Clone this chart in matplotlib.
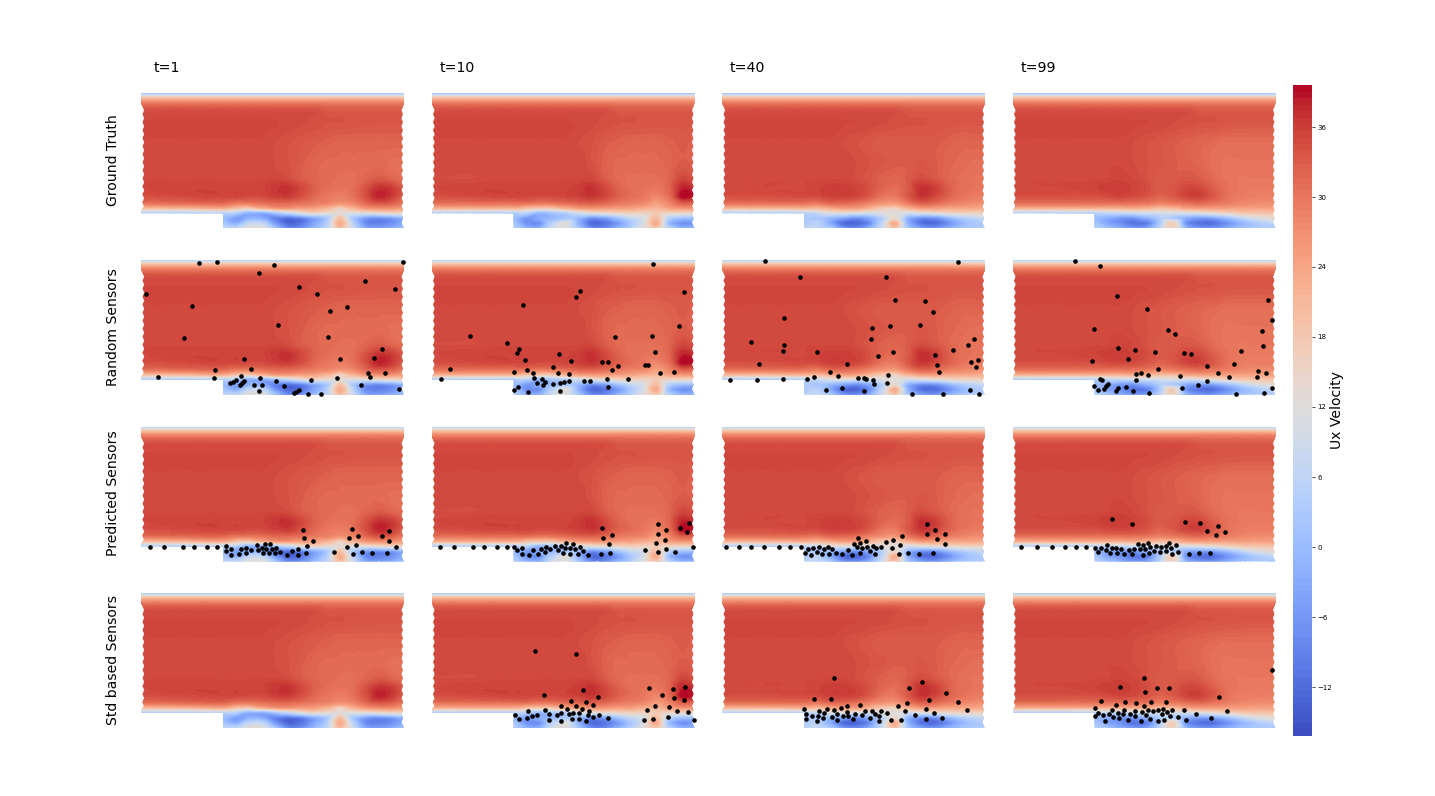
import numpy as np
import matplotlib
matplotlib.use("Agg")
import matplotlib.pyplot as plt
from matplotlib.patches import Polygon
from matplotlib.tri import Triangulation, CubicTriInterpolator

times = ["t=1", "t=10", "t=40", "t=99"]
row_names = ["Ground Truth", "Random Sensors", "Predicted Sensors", "Std based Sensors"]

# Field nodes (domain units = px of a panel)
x_nodes = [0, 40, 82, 95, 108, 121, 134, 147, 160, 173, 186, 199, 212, 225, 238, 251, 263]
y_low = [85, 65, 50, 40, 32, 25, 20, 16, 10, 5, 0]
y_top = [135, 133, 130, 126, 120, 110]

top_band = [
    [0]*17,
    [9]*17,
    [20]*17,
    [28]*17,
    [33.5]*10 + [32.5]*7,
    [35, 35, 35, 35, 35, 35, 35, 34.8, 34.6, 34.4, 34, 34, 33.8, 33.6, 33.5, 33.5, 33.5],
]

ux_t1 = [
    [35, 35, 35, 35, 35, 35, 34.5, 34, 33.5, 33, 32.5, 32, 32, 32, 32, 32, 32],
    [35, 35, 35, 35, 35, 35, 34.5, 34, 33, 32, 31.5, 31.5, 31.5, 31.5, 31.5, 31, 31],
    [35, 35, 35, 35, 35, 35, 35, 34.5, 33, 32, 31.5, 31, 31, 32, 33, 32, 31],
    [35, 35.5, 35.5, 35.5, 35.5, 35.5, 36.5, 37, 35, 32.5, 31, 30.5, 31, 34, 37, 36, 33],
    [34, 34.5, 35, 35, 34.5, 34.5, 35.5, 36, 34, 31.5, 30, 29, 30.5, 34, 38, 36, 32],
    [30, 30.5, 31, 29, 29, 30, 31, 31, 30, 29, 28, 26, 27.5, 31, 33, 32, 29],
    [19, 20, 22, 18, 16, 21, 24, 25, 24, 24, 21, 15, 21, 25, 26, 26, 24],
    [5, 5, 6, 5, -1, -1, 3, 8, 13, 16, 14, 13, 12, 13, 15, 16, 16],
    [5, 5, 0, -5, -2, -3, -9, -12, -10, -4, 2, 19, 2, -6, -8, -6, -2],
    [5, 5, 2, -3, 6, 6, -6, -13, -11, -4, 4, 23, 5, -8, -9, -7, -2],
    [5, 5, 6, 6, 12, 12, 2, -8, -7, -1, 6, 20, 8, -4, -5, -3, 1],
]
ux_t10 = [
    [35, 35, 35, 35, 35, 35, 35, 34.5, 34, 33, 32.5, 32, 32, 32, 32.5, 33, 32.5],
    [35, 35, 35, 35, 35, 35, 35, 35, 34, 32.5, 31.5, 31.5, 31.5, 31.5, 32, 33, 32.5],
    [34.5, 34.5, 35, 35, 35, 35, 35, 35, 35, 33, 31.5, 31, 31, 31, 32, 35, 34],
    [35, 35.5, 35.5, 35.5, 35.5, 35.5, 35.5, 36, 37, 35, 32.5, 31, 30.5, 30, 32, 38, 37],
    [34, 34.5, 35, 35, 34.5, 34.5, 35, 35.5, 36.5, 35, 32.5, 31, 30, 28, 31, 39.5, 38],
    [30, 30, 30, 30, 29, 29.5, 30.5, 31.5, 32, 31, 29.5, 28.5, 27.5, 24.5, 28, 32, 31],
    [21, 21, 21, 18, 17, 17, 21, 24, 25, 25, 24, 24, 22, 21, 24, 25, 25],
    [5, 5, 5, 6, 0, 3, 5, 10, 13, 15, 16, 17, 16, 18, 16, 16, 16],
    [5, 5, 0, -6, -3, -1, 2, -1, -8, -6, 0, 6, 10, 20, 4, 0, 0],
    [5, 5, 2, -7, -7, 5, 12, -2, -12, -11, -6, 2, 10, 23, -1, -7, -5],
    [5, 5, 4, -2, -2, 9, 12, 2, -8, -8, -2, 4, 12, 18, 5, -2, -1],
]
ux_t40 = [
    [35, 35, 35, 35, 35, 34.5, 34, 33.5, 33, 33, 33, 33, 33, 32.5, 32, 32, 32],
    [35, 35, 35, 35, 35, 35, 34.5, 34, 33.5, 33, 33, 33.5, 33, 32, 31.5, 31, 31],
    [35, 35, 35, 35, 35, 35, 34.5, 33.5, 32.5, 32, 33, 34.5, 33.5, 32, 31, 30.5, 30.5],
    [35, 35, 35, 35.5, 36, 36, 35.5, 34, 32, 31, 33, 37, 36, 33, 31, 30.5, 30],
    [34, 34, 34.5, 34.5, 35.5, 35.5, 35, 33, 30, 29.5, 33, 36.5, 35, 32.5, 30.5, 29.5, 29],
    [30, 30, 30, 29, 31, 31, 30, 28, 26, 25, 29, 32, 31, 29, 28, 27, 26],
    [20, 20, 21, 20, 22, 24, 24, 21, 17, 15, 21, 24, 24, 23, 23, 23, 22],
    [5, 5, 6, 8, 12, 13, 12, 11, 12, 12, 10, 12, 14, 15, 16, 16, 16],
    [5, 5, 3, 2, -1, -5, -8, -4, 4, 14, -2, -8, -8, -3, 2, 5, 7],
    [5, 5, 3, 5, -3, -12, -13, -8, 6, 23, -2, -11, -12, -8, -2, 2, 3],
    [5, 5, 5, 7, 3, -6, -8, -3, 8, 19, 2, -5, -7, -3, 1, 3, 4],
]
ux_t99 = [
    [35, 35, 35, 35, 35, 34.5, 34, 33.5, 33, 32.5, 32, 31.5, 31, 31, 31, 31, 31],
    [35, 35, 35, 35, 35, 34.5, 34, 33.5, 33, 32.5, 32, 31, 30.5, 30.5, 30.5, 30.5, 30.5],
    [35, 35, 35, 35, 35.5, 35, 34, 33, 33, 33.5, 33, 31.5, 30.5, 30, 30, 30, 30],
    [35, 35, 35.5, 36, 36, 35.5, 34.5, 33, 33.5, 35, 35, 33, 31, 30, 29.5, 29.5, 29.5],
    [34, 34, 34, 34.5, 35, 34.5, 33.5, 32, 33, 35, 35.5, 33.5, 31, 29.5, 29, 29, 29],
    [30, 30, 30, 30, 30, 30, 29.5, 28, 29, 30, 31, 30, 29, 28, 27.5, 27, 27],
    [21, 21, 21, 21, 21, 22, 21, 19, 20, 23, 24, 24, 24, 24, 24, 24, 24],
    [5, 5, 6, 7, 8, 9, 10, 10, 11, 11, 12, 14, 16, 18, 19, 19, 20],
    [5, 5, 0, -3, -6, -7, -3, 3, 3, -3, -6, -6, -2, 3, 8, 11, 13],
    [5, 5, 2, -4, -7, -11, -10, 2, 17, -6, -11, -12, -8, -3, 1, 4, 6],
    [5, 5, 4, 1, -3, -6, -5, 5, 15, -1, -6, -7, -4, 0, 2, 3, 3],
]
fields = [ux_t1, ux_t10, ux_t40, ux_t99]

# Sensor readings, in 1/3 px of the crop each column was read in
random_t1 = [(206,40),(260,35),(433,44),(386,68),(818,36),(706,94),(507,112),(561,132),(795,116),(48,132),(187,167),(652,170),(599,182),(443,225),(162,265),(595,261),(757,298),(731,325),(631,326),(341,326),(254,361),(363,357),(714,369),(766,370),(719,381),(85,381),(251,385),(334,378),(391,383),(622,383),(544,390),(438,394),(300,398),(308,395),(318,391),(343,392),(337,398),(331,404),(373,406),(397,406),(462,407),(692,404),(388,422),(807,418),(506,420),(499,426),(491,429),(534,433),(573,433)]
random_t10 = [(699,43),(480,122),(468,141),(791,126),(309,166),(776,229),(150,258),(584,260),(697,257),(261,279),(297,298),(291,308),(705,305),(417,312),(316,331),(454,334),(545,335),(563,335),(593,347),(674,346),(685,344),(399,352),(90,358),(321,359),(577,360),(282,365),(339,369),(413,368),(447,372),(720,370),(762,366),(62,387),(343,385),(367,386),(562,386),(625,387),(374,395),(351,398),(400,401),(421,398),(433,396),(447,393),(492,392),(510,394),(369,406),(293,411),(565,412),(283,421),(325,425),(421,424)]
random_t40 = [(166,32),(743,37),(269,81),(528,80),(554,150),(645,152),(668,187),(222,205),(629,225),(539,228),(487,233),(793,266),(483,268),(124,276),(773,285),(221,285),(219,303),(730,299),(548,305),(321,307),(674,314),(503,318),(803,329),(782,337),(147,343),(411,343),(681,344),(797,350),(687,365),(361,366),(533,376),(313,382),(384,379),(61,390),(140,390),(220,386),(291,388),(444,384),(462,383),(468,386),(490,389),(493,401),(531,399),(348,419),(395,414),(461,423),(781,421),(606,431),(698,433),(808,431)]
random_t99 = [(226,32),(300,48),(350,138),(441,176),(805,149),(815,211),(281,238),(505,239),(526,252),(785,242),(788,288),(355,295),(404,299),(722,303),(465,306),(551,309),(573,312),(276,332),(383,326),(622,349),(701,343),(475,357),(408,371),(424,368),(443,374),(653,370),(775,364),(799,368),(771,381),(687,382),(541,379),(299,386),(305,389),(408,391),(622,393),(283,408),(324,403),(318,409),(311,417),(295,421),(354,414),(347,424),(379,411),(398,422),(546,415),(594,406),(448,430),(707,433),(793,429),(817,415)]

pred_t1 = [(59,140),(102,140),(160,140),(192,140),(231,140),(260,140),(289,139),(288,153),(303,148),(303,165),(326,163),(333,147),(349,143),(347,158),(362,150),(382,136),(383,150),(395,143),(405,132),(409,146),(421,132),(425,146),(437,144),(399,159),(417,160),(436,160),(451,156),(471,165),(485,153),(505,147),(504,164),(527,159),(530,138),(520,89),(523,115),(548,123),(613,156),(665,87),(658,115),(685,108),(677,135),(651,141),(669,161),(696,155),(727,159),(771,158),(755,108),(778,94),(778,122),(797,142)]
pred_t10 = [(60,140),(103,140),(158,140),(193,140),(232,140),(261,140),(281,140),(292,150),(307,145),(305,161),(327,164),(339,150),(355,162),(364,146),(377,141),(376,157),(391,148),(405,139),(414,150),(423,137),(437,130),(435,144),(430,160),(450,145),(451,162),(459,132),(465,147),(474,162),(479,141),(488,152),(505,164),(542,161),(571,159),(568,133),(549,113),(576,106),(545,84),(674,151),(713,73),(713,101),(709,128),(735,119),(738,91),(738,147),(713,156),(764,157),(779,83),(807,68),(802,97),(820,140)]
pred_t40 = [(49,140),(88,140),(124,140),(163,140),(206,140),(241,140),(273,140),(295,146),(284,158),(303,164),(310,143),(320,155),(328,142),(336,162),(341,147),(353,140),(356,162),(365,147),(378,160),(396,162),(414,151),(427,164),(432,131),(443,114),(441,142),(451,130),(456,143),(451,159),(467,124),(470,141),(481,152),(489,139),(499,145),(496,162),(514,142),(527,127),(545,145),(549,119),(571,136),(575,109),(566,162),(595,159),(628,161),(668,160),(650,73),(652,103),(676,89),(680,117),(704,103),(704,131)]
pred_t99 = [(62,140),(110,140),(156,140),(196,140),(227,140),(257,140),(285,143),(294,157),(303,143),(317,150),(320,134),(331,158),(335,143),(349,144),(350,158),(363,146),(372,161),(387,150),(397,162),(402,146),(413,132),(420,146),(428,134),(428,164),(436,148),(443,128),(447,160),(450,142),(462,152),(469,139),(481,155),(484,142),(497,138),(499,153),(508,129),(513,145),(515,162),(527,135),(535,157),(567,161),(596,159),(629,160),(337,57),(396,72),(556,67),(601,68),(653,78),(620,92),(676,96),(647,105)]

std_t1 = []
std_t10 = [(344,33),(468,42),(489,151),(373,166),(534,171),(452,183),(497,186),(422,198),(468,197),(518,195),(441,208),(487,208),(375,211),(324,213),(507,212),(388,221),(424,220),(410,224),(447,222),(460,218),(477,219),(285,226),(335,227),(352,226),(321,234),(297,238),(387,239),(423,242),(457,237),(477,236),(498,242),(503,226),(518,231),(537,224),(563,235),(687,145),(759,147),(795,140),(725,166),(761,175),(792,179),(705,197),(746,200),(681,211),(770,214),(803,216),(743,231),(699,238),(671,240),(822,240)]
std_t40 = [(371,54),(637,66),(598,84),(709,100),(311,118),(363,116),(657,120),(745,126),(592,128),(411,138),(393,143),(449,136),(563,138),(770,151),(647,146),(282,148),(352,147),(326,153),(372,149),(411,155),(466,153),(486,152),(514,153),(585,154),(288,162),(341,159),(530,160),(435,162),(381,162),(494,163),(671,160),(615,165),(456,165),(288,178),(307,169),(323,167),(338,174),(366,170),(399,167),(414,169),(508,167),(481,174),(430,177),(382,179),(322,184),(506,183),(543,181),(573,179),(649,177),(695,174)]
std_t99 = [(431,54),(817,31),(360,81),(470,85),(508,83),(434,96),(658,110),(302,122),(348,135),(374,127),(408,129),(454,126),(497,126),(431,138),(285,145),(336,150),(371,149),(443,150),(404,153),(458,154),(473,151),(489,148),(517,151),(551,150),(681,154),(295,158),(354,160),(370,163),(390,163),(427,156),(439,164),(486,161),(501,156),(589,161),(285,169),(308,166),(326,162),(338,171),(356,175),(405,168),(510,167),(533,172),(451,177),(383,179),(423,182),(474,182),(493,179),(557,180),(634,175),(315,184)]

sensors = [
    [None, None, None, None],
    [random_t1, random_t10, random_t40, random_t99],
    [pred_t1, pred_t10, pred_t40, pred_t99],
    [std_t1, std_t10, std_t40, std_t99],
]
crop_x = [130, 420, 710, 1000]
crop_y = {1: [250]*4, 2: [500]*4, 3: [660, 640, 660, 660]}

cbar_ticks = [-12, -6, 0, 6, 12, 18, 24, 30, 36]
cbar_tick_labels = ["\u221212", "\u22126", "0", "6", "12", "18", "24", "30", "36"]
vmin, vmax = -16.2, 39.6

W, H = 1435, 796
col_left = [141, 431.5, 722, 1012.5]
row_top = [93.3, 259.7, 426.5, 593]
PW, PH = 263, 135
STEP_X, STEP_Y = 82, 15


def px_axes(fig, l, t, w, h):
    return fig.add_axes([l / W, 1 - (t + h) / H, w / W, h / H])


def outline():
    pts = [(STEP_X, 0), (PW, 0)]
    ys = np.arange(2, 124, 4.0)
    pts += [(PW - (2.6 if k % 2 else 1.0), y) for k, y in enumerate(ys)]
    pts += [(PW, 125), (PW, PH), (0, PH), (0, 125)]
    pts += [(3.2 if k % 2 else 1.5, y) for k, y in enumerate(ys[::-1]) if y > 19]
    pts += [(0, 17.5), (0, STEP_Y), (STEP_X, STEP_Y)]
    return pts


xf = np.linspace(0, PW, 527)
yf = np.linspace(0, PH, 271)
XF, YF = np.meshgrid(xf, yf)
ys_all = np.array(y_low[::-1] + y_top[::-1], float)
smooth = []
for g in fields:
    z = np.vstack([np.array(g, float)[::-1], np.array(top_band, float)[::-1]])
    XN, YN = np.meshgrid(np.array(x_nodes, float), ys_all)
    tri = Triangulation(XN.ravel(), YN.ravel())
    fine = CubicTriInterpolator(tri, z.ravel(), kind="geom")(XF, YF).filled(5)
    smooth.append(np.clip(fine, vmin + 0.01, vmax - 0.01))

levels = np.linspace(vmin, vmax, 100)
fig = plt.figure(figsize=(W / 100, H / 100), dpi=100)
cs = None
for r, rt in enumerate(row_top):
    for c, cl in enumerate(col_left):
        ax = px_axes(fig, cl, rt, PW, PH)
        cs = ax.contourf(XF, YF, smooth[c], levels=levels, cmap="coolwarm")
        clip = Polygon(outline(), closed=True, transform=ax.transData, fc="none", ec="none")
        ax.add_patch(clip)
        cs.set_clip_path(clip)
        pts = sensors[r][c]
        if pts:
            arr = np.array(pts, float)
            sx = crop_x[c] + arr[:, 0] / 3 - cl
            sy = (rt + PH) - (crop_y[r][c] + arr[:, 1] / 3)
            ax.scatter(sx, sy, s=11, c="black", linewidths=0, zorder=5, clip_on=False)
        ax.set_xlim(0, PW)
        ax.set_ylim(0, PH)
        ax.axis("off")
    fig.text(113 / W, 1 - (rt + PH / 2 - 0.5) / H, row_names[r], rotation=90, ha="center", va="center", fontsize=10.1)

for c, label_x in enumerate([154, 440, 730, 1021]):
    fig.text(label_x / W, 1 - 67.5 / H, times[c], ha="left", va="center", fontsize=10.2)

cax = px_axes(fig, 1293, 85, 19, 651)
cb = fig.colorbar(cs, cax=cax, ticks=cbar_ticks)
cb.outline.set_visible(False)
cb.ax.tick_params(labelsize=5, length=2, width=0.5, pad=2)
cb.ax.set_yticklabels(cbar_tick_labels)
fig.text(1337 / W, 1 - 410.5 / H, "Ux Velocity", rotation=90, ha="center", va="center", fontsize=10.1)

fig.savefig("out.png", dpi=100)
